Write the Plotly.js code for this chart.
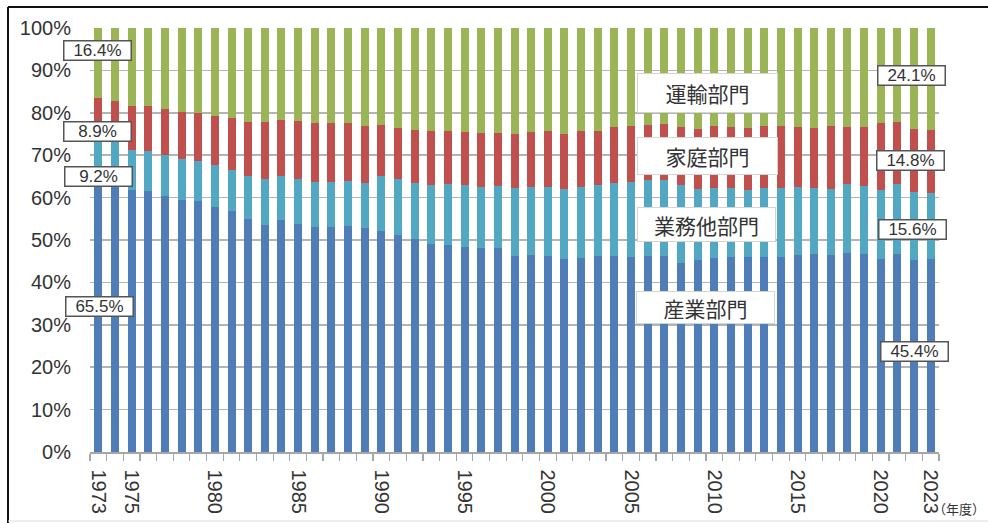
<!DOCTYPE html>
<html>
<head>
<meta charset="utf-8">
<script src="https://cdn.plot.ly/plotly-3.0.1.min.js"></script>
<style>
html,body{margin:0;padding:0;background:#fff;}
#chart{width:988px;height:523px;}
</style>
</head>
<body>
<div id="chart"></div>
<script>
// ---- data ----
var years = [1973,1974,1975,1976,1977,1978,1979,1980,1981,1982,1983,1984,1985,1986,1987,1988,1989,1990,1991,1992,1993,1994,1995,1996,1997,1998,1999,2000,2001,2002,2003,2004,2005,2006,2007,2008,2009,2010,2011,2012,2013,2014,2015,2016,2017,2018,2019,2020,2021,2022,2023];
var industry = [65.5,64.0,61.9,61.5,60.4,59.5,59.2,57.8,56.8,54.9,53.5,54.7,53.8,53.1,53.1,53.3,52.8,52.1,51.2,50.2,49.0,48.8,48.3,48.2,48.1,46.2,46.4,46.2,45.6,45.8,46.2,46.2,46.0,46.3,46.3,44.6,45.3,45.7,46.0,45.9,46.1,46.0,46.4,46.6,46.4,46.9,46.6,45.6,46.7,45.4,45.4];
var commercial = [9.2,10.0,9.4,9.6,9.7,9.7,9.4,9.8,9.6,10.3,10.8,10.4,10.6,10.5,10.5,10.7,10.6,13.1,13.1,13.3,14.0,14.4,14.6,14.2,14.6,16.1,16.1,16.4,16.4,16.6,16.7,17.2,17.7,17.9,17.9,18.3,16.8,16.6,16.3,15.8,16.2,16.2,16.1,15.7,15.7,16.2,16.1,16.3,16.5,15.9,15.6];
var household = [8.9,8.8,10.2,10.6,10.8,11.1,11.4,11.6,12.4,12.6,13.5,13.3,13.6,13.9,14.0,13.7,13.6,12.0,12.1,12.4,12.7,12.5,12.6,12.8,12.5,12.8,12.9,13.2,13.0,13.2,12.9,13.2,13.3,13.0,13.1,13.7,14.1,14.6,14.3,14.7,14.6,14.6,14.1,14.2,14.8,13.5,13.9,15.8,14.6,14.9,14.8];
var transport = [16.4,17.2,18.5,18.3,19.1,19.7,20.0,20.8,21.2,22.2,22.2,21.6,22.0,22.5,22.4,22.3,23.0,22.8,23.6,24.1,24.3,24.3,24.5,24.8,24.8,24.9,24.6,24.2,25.0,24.4,24.2,23.4,23.0,22.8,22.7,23.4,23.8,23.1,23.4,23.6,23.1,23.2,23.4,23.5,23.1,23.4,23.4,22.3,22.2,23.8,24.1];
var seriesNames = ['産業部門','業務他部門','家庭部門','運輸部門'];
var xTickVals = [1973,1975,1980,1985,1990,1995,2000,2005,2010,2015,2020,2023];
var xTickText = ['1973','1975','1980','1985','1990','1995','2000','2005','2010','2015','2020','2023'];
var yTickVals = [0,10,20,30,40,50,60,70,80,90,100];
var yTickText = ['0%','10%','20%','30%','40%','50%','60%','70%','80%','90%','100%'];
var unitLabel = '（年度）';

// ---- styles ----
var colors = ['#4f7db8','#52a8c2','#c0504d','#9bb556'];
var allSeries = [industry, commercial, household, transport];

var traces = allSeries.map(function(vals, i){
  return {
    type:'bar', x: years, y: vals, name: seriesNames[i],
    marker:{color: colors[i], line:{width:0}},
    hoverinfo:'skip'
  };
});

var L = 90, R = 939, T = 28, B = 452;
function px2x(px){ return (px - L)/(R - L); }
function py2y(py){ return (B - py)/(B - T); }

var numFont = {family:'"Liberation Sans", Arial, sans-serif', size:17, color:'#333'};
var cjkFont = {family:'"Noto Sans CJK JP", sans-serif', size:21, color:'#333'};

function valBox(text, cx, cy){
  return {xref:'paper', yref:'paper', x:px2x(cx), y:py2y(cy), xanchor:'center', yanchor:'middle',
    text:text, showarrow:false, font:numFont, bgcolor:'#fff', bordercolor:'#555', borderwidth:1.5,
    borderpad:1, width:64, height:16, align:'center'};
}
function nameBox(text, cx, cy, w, h){
  return {xref:'paper', yref:'paper', x:px2x(cx), y:py2y(cy), xanchor:'center', yanchor:'middle',
    text:text, showarrow:false, font:cjkFont, bgcolor:'#fff', bordercolor:'#d4d4d4', borderwidth:1,
    borderpad:1, width:w, height:h, align:'center'};
}
function pct(v){ return v.toFixed(1) + '%'; }
var n = years.length - 1;

var annotations = [
  valBox(pct(transport[0]), 97, 51),
  valBox(pct(household[0]), 97, 132),
  valBox(pct(commercial[0]), 98, 177),
  valBox(pct(industry[0]), 99, 306),
  valBox(pct(transport[n]), 911, 76),
  valBox(pct(household[n]), 910, 161),
  valBox(pct(commercial[n]), 912, 229),
  valBox(pct(industry[n]), 914, 351),
  nameBox(seriesNames[3], 707, 93, 137, 36),
  nameBox(seriesNames[2], 707, 156, 137, 34),
  nameBox(seriesNames[1], 706, 224, 135, 31),
  nameBox(seriesNames[0], 705, 307, 135, 29),
  {xref:'paper', yref:'paper', x:px2x(987), y:py2y(508), xanchor:'right', yanchor:'middle',
   text:unitLabel, showarrow:false, font:{family:'"Noto Sans CJK JP", sans-serif', size:13, color:'#333'}}
];

var shapes = [
  {type:'line', xref:'paper', yref:'paper', x0:px2x(8), x1:px2x(990), y0:py2y(7), y1:py2y(7), line:{color:'#111', width:2}},
  {type:'line', xref:'paper', yref:'paper', x0:px2x(8), x1:px2x(8), y0:py2y(7), y1:py2y(523), line:{color:'#111', width:2}},
  {type:'line', xref:'paper', yref:'paper', x0:px2x(8), x1:px2x(990), y0:py2y(521), y1:py2y(521), line:{color:'#ddd', width:1}}
];

var layout = {
  width:988, height:523,
  margin:{l:L, r:988-R, t:T, b:523-B, pad:0},
  paper_bgcolor:'#fff', plot_bgcolor:'#fff',
  barmode:'stack', barnorm:'percent', bargap:0.52,
  showlegend:false,
  font:{family:'"Liberation Sans", Arial, sans-serif', color:'#333'},
  xaxis:{
    type:'linear', range:[1972.5, 2023.5], fixedrange:true,
    tickvals:xTickVals, ticktext:xTickText, tickangle:90,
    ticks:'', showgrid:false, zeroline:false,
    showline:true, linecolor:'#a6a6a6', linewidth:1.5,
    tickfont:{family:'"Liberation Sans", Arial, sans-serif', size:20, color:'#333'},
    ticklabelstandoff:12,
    minor:{tick0:1972.5, dtick:1, ticks:'outside', ticklen:7, tickcolor:'#a6a6a6', tickwidth:1.2, showgrid:false}
  },
  yaxis:{
    range:[0,100], fixedrange:true, tickmode:'array', tickvals:yTickVals, ticktext:yTickText,
    showgrid:true, gridcolor:'#b4b4b4', gridwidth:1.5, zeroline:false,
    showline:false, ticks:'',
    tickfont:{family:'"Liberation Sans", Arial, sans-serif', size:20, color:'#333'},
    ticklabelstandoff:18
  },
  annotations:annotations,
  shapes:shapes
};

Plotly.newPlot('chart', traces, layout, {staticPlot:true, displayModeBar:false});
</script>
</body>
</html>
